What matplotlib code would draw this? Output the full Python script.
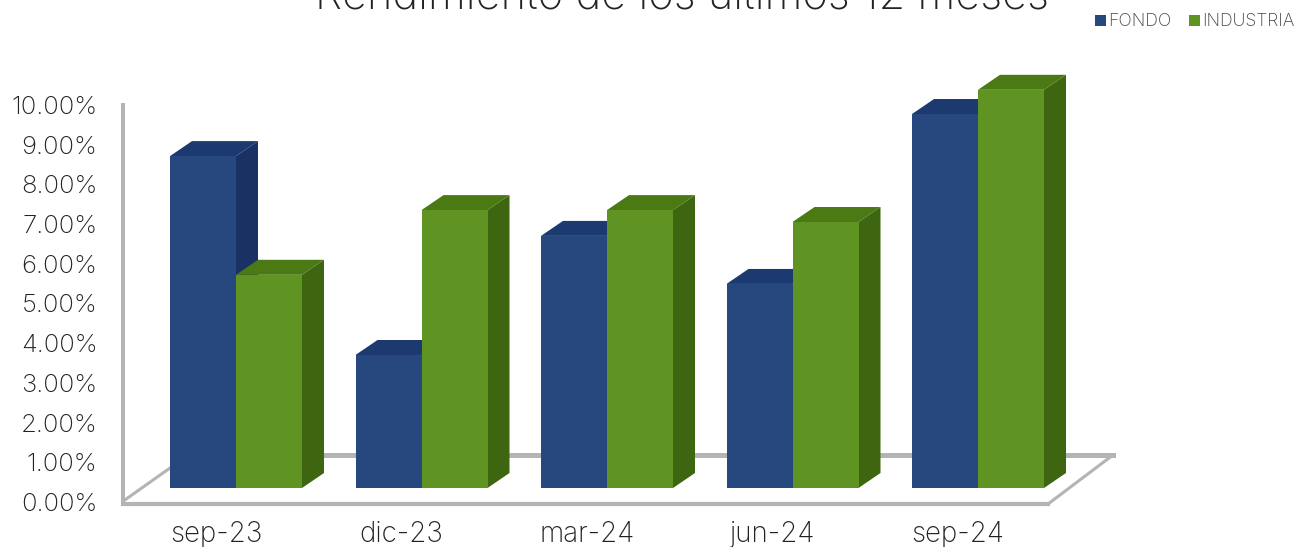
import matplotlib
matplotlib.use("Agg")
import matplotlib.pyplot as plt
from matplotlib.transforms import ScaledTranslation

categories = ["sep-23", "dic-23", "mar-24", "jun-24", "sep-24"]
fondo = [8.36, 3.35, 6.35, 5.14, 9.42]
industria = [5.37, 7.0, 7.0, 6.7, 10.03]
y_ticks = list(range(0, 11))
y_labels = [f"{v:.2f}%" for v in y_ticks]

plt.rcParams["font.family"] = ["Inter", "Lato", "DejaVu Sans"]
plt.rcParams["font.weight"] = "light"

W, H = 1297, 547
fig = plt.figure(figsize=(W / 100, H / 100), dpi=100)

# scale of the picture: one category = 185.5 px, one percent = 39.7 px
px_cat = 185.5
px_val = 39.7
x0, y0 = 236, 488
left, bottom = 121, 512
ax = fig.add_axes([left / W, (H - bottom) / H, (W - left) / W, bottom / H])
ax.set_xlim((left - x0) / px_cat, (W - x0) / px_cat)
ax.set_ylim((y0 - bottom) / px_val, y0 / px_val)
ax.patch.set_alpha(0)
for s in ax.spines.values():
    s.set_visible(False)

bar_w = 66 / px_cat
dx = 22 / px_cat
dy = 15 / px_val

# floor and axis lines
gray = "#b4b4b4"
floor_front = -16 / px_val
floor_back = 33 / px_val
axis_low = -14 / px_val
left_x = -114 / px_cat
right_front = (1048 - x0) / px_cat
right_back = (1113 - x0) / px_cat
back_left = (176 - x0) / px_cat
ax.plot([back_left, right_back], [floor_back, floor_back], color=gray, lw=3.6, zorder=1)
ax.plot([right_back, right_front], [floor_back, floor_front], color=gray, lw=2.2, zorder=1)
ax.plot([left_x, right_front], [floor_front, floor_front], color=gray, lw=3, zorder=1)
ax.plot([left_x, (170 - x0) / px_cat], [axis_low, 20 / px_val], color=gray, lw=2.2, zorder=1)
ax.plot([left_x, left_x], [axis_low, 10 - 14 / px_val], color=gray, lw=3.6, zorder=1)


def bars_3d(xs, vals, front, top, side, z):
    bars = ax.bar(xs, vals, bar_w, align="edge", color=front, zorder=z + 0.2)
    for x, v in zip(xs, vals):
        r = x + bar_w
        ax.fill([r, r + dx, r + dx, r], [0, dy, v + dy, v], color=side, lw=0, zorder=z)
        ax.fill([x, x + dx, r + dx, r], [v, v + dy, v + dy, v], color=top, lw=0, zorder=z + 0.1)
    return bars


pos = list(range(len(categories)))
b1 = bars_3d([p - bar_w for p in pos], fondo, "#27477f", "#1c3a70", "#1a3263", 2)
b2 = bars_3d(pos, industria, "#5f9322", "#4b7a14", "#3e6510", 3)

ax.set_xticks(pos)
ax.set_xticklabels(categories, fontsize=20, color="#222222")
ax.set_yticks(y_ticks)
ax.set_yticklabels(y_labels, fontsize=18.5, color="#222222")
ax.tick_params(length=0)
ax.tick_params(axis="y", pad=17)
ax.tick_params(axis="x", pad=6.5)

# labels sit off the ticks like in the 3d projection
for lab in ax.get_yticklabels():
    lab.set_transform(lab.get_transform() + ScaledTranslation(0, -14 / 100, fig.dpi_scale_trans))
for lab in ax.get_xticklabels():
    lab.set_transform(lab.get_transform() + ScaledTranslation(-20 / 100, 0, fig.dpi_scale_trans))

fig.text(682 / W, (H - 10) / H, "Rendimiento de los últimos 12 meses", ha="center", va="baseline",
         fontsize=31.3, color="#222222")

fig.legend([b1, b2], ["FONDO", "INDUSTRIA"], ncol=2, loc="center right",
           bbox_to_anchor=(1295 / W, (H - 22) / H), frameon=False, fontsize=12.7,
           labelcolor="#444444", handlelength=0.62, handleheight=0.62, handletextpad=0.15,
           columnspacing=1.0, borderpad=0, borderaxespad=0)

fig.savefig("out.png", dpi=100)
